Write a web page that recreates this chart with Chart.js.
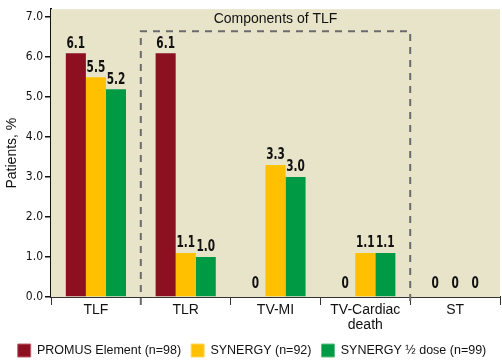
<!DOCTYPE html>
<html>
<head>
<meta charset="utf-8">
<script src="https://cdn.jsdelivr.net/npm/chart.js@4/dist/chart.umd.min.js"></script>
<style>
  body { margin: 0; background: #fff; }
  #wrap { width: 502px; height: 362px; }
</style>
</head>
<body>
<div id="wrap"><canvas id="myChart"></canvas></div>
<script>
// data
var categories = ['TLF', 'TLR', 'TV-MI', ['TV-Cardiac', 'death'], 'ST'];
var promus = [6.1, 6.1, 0, 0, 0];
var synergy = [5.5, 1.1, 3.3, 1.1, 0];
var synergyHalf = [5.2, 1.0, 3.0, 1.1, 0];
var seriesNames = ['PROMUS Element (n=98)', 'SYNERGY (n=92)', 'SYNERGY \u00bd dose (n=99)'];
var yTicks = [0, 1, 2, 3, 4, 5, 6, 7];

var narrow = "'DejaVu Sans Condensed', sans-serif";
var sans = "'Liberation Sans', Arial, sans-serif";

// draw text squeezed horizontally (condensed look)
function narrowText(ctx, txt, x, y, squeeze)
{
	ctx.save();
	ctx.translate(x, y);
	ctx.scale(squeeze, 1);
	ctx.fillText(txt, 0, 0);
	ctx.restore();
}

// beige plot background + dashed box + value labels
var decor = {
	id: 'decor',
	beforeDatasetsDraw: function (chart)
	{
		var a = chart.chartArea, ctx = chart.ctx;
		ctx.save();
		ctx.fillStyle = '#e8e4c9';
		ctx.fillRect(a.left, a.top, a.right - a.left, a.bottom - a.top);
		ctx.restore();
	},
	afterDatasetsDraw: function (chart)
	{
		var ctx = chart.ctx, a = chart.chartArea;
		var x = chart.scales.x, y = chart.scales.y;
		// dashed box around components
		var w = x.getPixelForValue(1) - x.getPixelForValue(0);
		var x1 = x.getPixelForValue(0) + w / 2;
		var x2 = x.getPixelForValue(3) + w / 2;
		var yt = y.getPixelForValue(6.65);
		ctx.save();
		ctx.strokeStyle = '#6b6b6b';
		ctx.lineWidth = 2;
		ctx.setLineDash([7, 6]);
		ctx.beginPath();
		ctx.moveTo(x1, a.bottom + 8);
		ctx.lineTo(x1, yt);
		ctx.lineTo(x2, yt);
		ctx.lineTo(x2, a.bottom + 8);
		ctx.stroke();
		ctx.setLineDash([]);
		ctx.fillStyle = '#111';
		ctx.font = '14px ' + sans;
		ctx.textAlign = 'center';
		ctx.textBaseline = 'middle';
		ctx.fillText('Components of TLF', (x1 + x2) / 2, y.getPixelForValue(6.95));
		// value labels
		ctx.font = 'bold 15px ' + narrow;
		ctx.textBaseline = 'bottom';
		chart.data.datasets.forEach(function (ds, di)
		{
			var meta = chart.getDatasetMeta(di);
			meta.data.forEach(function (bar, i)
			{
				var v = ds.data[i];
				var txt = v === 0 ? '0' : v.toFixed(1);
				narrowText(ctx, txt, bar.x, v === 0 ? bar.y - 5 : bar.y - 2, 0.78);
			});
		});
		ctx.restore();
	}
};

var ctx = document.getElementById('myChart');
var myChart = new Chart(ctx, {
	type: 'bar',
	data: {
		labels: categories,
		datasets: [
			{ label: seriesNames[0], data: promus, backgroundColor: '#8c1020', borderColor: '#c0606a', borderWidth: 0 },
			{ label: seriesNames[1], data: synergy, backgroundColor: '#ffc000', borderColor: '#ffd860', borderWidth: 0 },
			{ label: seriesNames[2], data: synergyHalf, backgroundColor: '#009a44', borderColor: '#60c080', borderWidth: 0 }
		]
	},
	options: {
		responsive: true,
		maintainAspectRatio: false,
		animation: false,
		layout: { padding: { top: 5, right: 2, left: 4, bottom: -5 } },
		datasets: { bar: { categoryPercentage: 0.67, barPercentage: 1.0 } },
		plugins: {
			legend: {
				position: 'bottom',
				labels: {
					boxWidth: 13, boxHeight: 13, padding: 10,
					color: '#111',
					font: { family: sans, size: 12.5, lineHeight: 1 },
					generateLabels: function (chart)
					{
						return chart.data.datasets.map(function (ds, i)
						{
							return {
								text: ds.label, fillStyle: ds.backgroundColor,
								strokeStyle: ds.borderColor, lineWidth: 1,
								datasetIndex: i, fontColor: '#111'
							};
						});
					}
				}
			},
			tooltip: { enabled: false }
		},
		scales: {
			x: {
				offset: true,
				afterFit: function (scale) { scale.height = 37; },
				grid: { offset: true, drawOnChartArea: false, tickLength: 8, color: '#333', lineWidth: 1 },
				border: { color: '#333', width: 2 },
				ticks: { color: '#111', font: { family: sans, size: 14, lineHeight: 1.1 }, padding: -3, maxRotation: 0 }
			},
			y: {
				min: 0,
				max: 7.2,
				afterFit: function (scale) { scale.width = 47; },
				afterBuildTicks: function (scale) { scale.ticks = yTicks.map(function (v) { return { value: v }; }); },
				title: { display: true, text: 'Patients, %', color: '#111', font: { family: sans, size: 14 }, padding: 0 },
				grid: { drawOnChartArea: false, tickLength: 6, color: '#111', lineWidth: 1.5 },
				border: { color: '#111', width: 2 },
				ticks: {
					color: '#111', padding: 2,
					font: { family: narrow, size: 12 },
					callback: function (v) { return Number(v).toFixed(1); }
				}
			}
		}
	},
	plugins: [decor]
});
</script>
</body>
</html>
